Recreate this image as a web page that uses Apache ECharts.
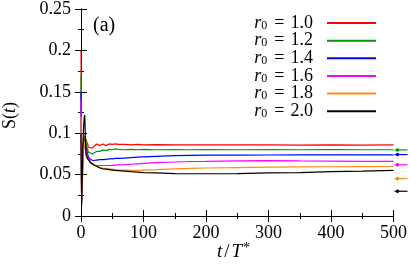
<!DOCTYPE html>
<html>
<head>
<meta charset="utf-8">
<script src="https://cdn.jsdelivr.net/npm/echarts@6/dist/echarts.min.js"></script>
<style>html,body{margin:0;padding:0;background:#fff}#c{width:410px;height:269px}</style>
</head>
<body>
<div id="c"></div>
<script>
const tVals = [0,1,2,3,4,5,6,7,8,10,12,15,18,20,25,30,35,40,45,50,55,60,70,80,90,100,120,150,175,200,250,300,350,400,450,500];
const seriesNames = ['1.0','1.2','1.4','1.6','1.8','2.0'];
const seriesColors = ['#ff0000','#009a00','#0000ff','#ff00ff','#ff8c1a','#000000'];
const sR10 = [0.200,0.030,0.055,0.080,0.092,0.097,0.099,0.095,0.092,0.088,0.083,0.081,0.082,0.084,0.087,0.085,0.087,0.085,0.087,0.0865,0.087,0.0865,0.0865,0.086,0.0865,0.086,0.0862,0.086,0.0858,0.086,0.0858,0.0858,0.0856,0.0858,0.0857,0.0858];
const sR12 = [0.170,0.025,0.048,0.075,0.088,0.094,0.096,0.092,0.088,0.082,0.077,0.075,0.075,0.076,0.078,0.078,0.0795,0.079,0.0805,0.080,0.081,0.0805,0.080,0.0805,0.080,0.0805,0.080,0.0802,0.080,0.0802,0.080,0.0802,0.080,0.0801,0.080,0.080];
const sR14 = [0.150,0.020,0.042,0.070,0.084,0.090,0.092,0.088,0.083,0.077,0.071,0.068,0.067,0.067,0.0675,0.068,0.068,0.0685,0.069,0.069,0.0695,0.0695,0.070,0.0705,0.071,0.0715,0.072,0.0728,0.0732,0.0735,0.0736,0.0737,0.0738,0.0738,0.0738,0.0738];
const sR16 = [0.140,0.018,0.038,0.066,0.080,0.087,0.089,0.084,0.079,0.073,0.068,0.064,0.062,0.0615,0.061,0.061,0.061,0.061,0.061,0.0612,0.0615,0.0618,0.062,0.0625,0.063,0.0635,0.0645,0.0652,0.0658,0.066,0.0665,0.0668,0.0665,0.0663,0.066,0.066];
const sR18 = [0.120,0.015,0.034,0.062,0.078,0.086,0.090,0.080,0.073,0.069,0.067,0.065,0.063,0.062,0.060,0.059,0.058,0.0575,0.057,0.0565,0.056,0.0558,0.0555,0.0552,0.0552,0.0555,0.056,0.057,0.0575,0.058,0.0585,0.059,0.0593,0.0595,0.0597,0.0598];
const sR20 = [0.100,0.012,0.045,0.085,0.105,0.118,0.122,0.095,0.075,0.070,0.068,0.065,0.063,0.062,0.060,0.058,0.057,0.0565,0.056,0.0555,0.055,0.0548,0.0542,0.0535,0.053,0.0525,0.052,0.0512,0.051,0.051,0.0512,0.052,0.0525,0.0535,0.0542,0.055];
const markerVals = [null,0.0798,0.0742,0.0618,0.0451,0.0299];
const xTicks = [0,100,200,300,400,500];
const yTicks = [0,0.05,0.1,0.15,0.2,0.25];

const allSeries = [sR10,sR12,sR14,sR16,sR18,sR20];
const FONT = 'Liberation Serif';
const chart = echarts.init(document.getElementById('c'), null, {renderer:'canvas'});

const axisCommon = {
  type:'value',
  axisLine:{show:true,lineStyle:{color:'#000',width:1}},
  axisTick:{show:true,inside:true,length:6,lineStyle:{color:'#000',width:1}},
  minorTick:{show:true,splitNumber:2,length:3,lineStyle:{color:'#000',width:1}},
  splitLine:{show:false},
  minorSplitLine:{show:false}
};

const lineSeries = allSeries.map((vals,i)=>({
  name:'r0 = '+seriesNames[i],
  type:'line',
  showSymbol:false,
  symbol:'none',
  data:tVals.map((t,k)=>[t,vals[k]]),
  lineStyle:{color:seriesColors[i],width:1.2},
  itemStyle:{color:seriesColors[i]},
  z:3
}));

const markerData = [];
markerVals.forEach((v,i)=>{ if(v!==null) markerData.push([xTicks[xTicks.length-1],v,i]); });

const option = {
  animation:false,
  backgroundColor:'#fff',
  textStyle:{fontFamily:FONT,color:'#000'},
  grid:{left:81,right:13,top:6,bottom:53,containLabel:false},
  xAxis:[
    Object.assign({},axisCommon,{min:0,max:500,interval:100,position:'bottom',
      axisLabel:{margin:8,color:'#000',fontSize:18,fontFamily:FONT,
        formatter:v=>xTicks.includes(v)?String(v):''}}),
    Object.assign({},axisCommon,{min:0,max:500,interval:100,position:'top',axisLabel:{show:false}})
  ],
  yAxis:[
    Object.assign({},axisCommon,{min:0,max:0.25,interval:0.05,position:'left',
      axisLabel:{margin:10,color:'#000',fontSize:18,fontFamily:FONT,
        formatter:v=>String(+v.toFixed(2))}}),
    Object.assign({},axisCommon,{min:0,max:0.25,interval:0.05,position:'right',axisLabel:{show:false}})
  ],
  legend:{
    orient:'vertical',
    right:29,
    top:9,
    align:'right',
    itemGap:-0.35,
    itemWidth:49,
    itemHeight:2,
    icon:'rect',
    data:lineSeries.map(s=>s.name),
    formatter:function(name){
      const v = name.split('= ')[1];
      return '{i|r}{s|0}{e|=}{n|'+v+'}';
    },
    textStyle:{
      color:'#000',fontFamily:FONT,fontSize:18,lineHeight:17,
      rich:{
        i:{fontFamily:FONT,fontStyle:'italic',fontSize:18,lineHeight:17,color:'#000'},
        s:{fontFamily:FONT,fontSize:12,lineHeight:10,verticalAlign:'bottom',color:'#000',padding:[0,1,0,0]},
        e:{fontFamily:FONT,fontSize:18,lineHeight:17,color:'#000',padding:[0,6,0,6]},
        n:{fontFamily:FONT,fontSize:18,lineHeight:17,color:'#000',padding:[0,9,0,0]}
      }
    }
  },
  graphic:[
    {type:'text',left:93,top:16,style:{text:'(a)',font:'20px "Liberation Serif", serif',fill:'#000'}},
    {type:'text',x:1,y:129,rotation:Math.PI/2,style:{
      text:'{n|S(}{i|t}{n|)}',
      rich:{n:{fontFamily:FONT,fontSize:18,fill:'#000'},i:{fontFamily:FONT,fontStyle:'italic',fontSize:18,fill:'#000'}}
    }},
    {type:'text',x:217,y:241,style:{
      text:'{i|t}{n|/}{i|T}{s|*}',
      rich:{n:{fontFamily:FONT,fontSize:19,fill:'#000',padding:[0,2,0,2]},i:{fontFamily:FONT,fontStyle:'italic',fontSize:19,fill:'#000'},
            s:{fontFamily:FONT,fontSize:14,fill:'#000',verticalAlign:'top',lineHeight:22,padding:[0,0,0,1]}}
    }}
  ],
  series:lineSeries.concat([{
    type:'custom',
    clip:false,
    silent:true,
    z:4,
    data:markerData,
    renderItem:function(params,api){
      const p = api.coord([api.value(0),api.value(1)]);
      const c = seriesColors[api.value(2)];
      return {type:'group',children:[
        {type:'line',shape:{x1:p[0]+1,y1:p[1],x2:p[0]+14,y2:p[1]},style:{stroke:c,lineWidth:1.2}},
        {type:'circle',shape:{cx:p[0]+4,cy:p[1],r:1.8},style:{fill:c}}
      ]};
    }
  }])
};
chart.setOption(option);
</script>
</body>
</html>
